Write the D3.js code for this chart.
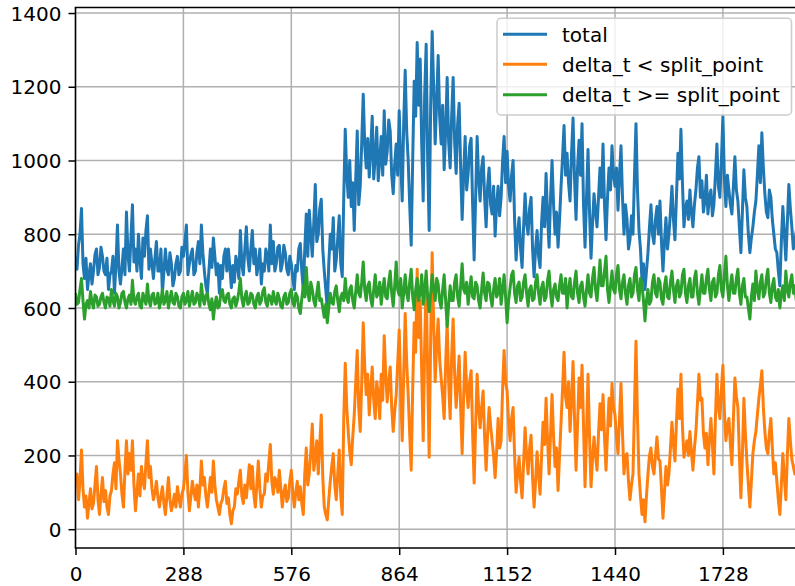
<!DOCTYPE html>
<html><head><meta charset="utf-8">
<script src="https://cdn.jsdelivr.net/npm/d3@7"></script>
<style>body{margin:0;background:#fff} svg{display:block}</style>
</head><body>
<svg id="c" width="795" height="586"></svg>
<script>
// sample spacing along the x axis (index units)
const step = 4;

const total = [
740,705,770,800,870,720,680,735,650,690,720,665,700,745,760,690,710,765,740,700,
690,735,650,690,700,740,640,720,825,700,665,710,760,690,860,745,700,790,880,725,
760,700,800,730,680,790,740,810,850,705,760,720,680,735,780,700,700,760,640,700,
760,705,690,750,720,660,680,720,740,690,700,765,740,780,825,690,720,745,760,690,
700,750,780,720,825,750,700,660,640,700,760,710,790,740,690,720,640,715,680,740,
760,700,760,710,655,715,670,740,720,680,810,720,690,760,820,735,700,760,810,720,
760,690,720,760,665,720,700,760,740,700,825,720,780,700,720,765,770,700,720,770,
750,705,690,740,720,680,650,715,700,760,775,700,650,760,855,740,865,800,740,830,
935,780,800,870,895,760,700,650,600,720,800,760,845,700,730,790,850,720,685,900,
1085,960,900,1000,875,940,810,950,1080,880,930,1050,1180,1040,980,1060,955,1030,1120,950,
1010,1090,945,1000,1065,960,1135,990,1025,1110,1080,960,910,990,1045,960,1135,1000,890,1100,
1245,1080,1000,880,770,1000,1215,1120,1320,1150,1275,1050,890,1180,1315,1000,810,1150,1350,1200,
1045,1160,1285,1120,1045,1150,975,1080,1225,1050,980,1120,1225,1050,965,1100,1155,980,840,960,
1065,920,965,1040,1060,880,730,900,1065,950,890,980,1010,900,820,930,980,880,855,930,
795,880,930,850,900,1000,1065,940,1025,930,890,960,1000,840,730,800,845,760,710,820,
910,830,800,870,900,760,685,760,810,740,710,830,900,820,965,850,765,900,1000,880,
800,860,765,840,930,1010,1095,960,1020,940,890,1020,1115,950,840,980,1055,960,1100,880,
765,900,1030,860,735,830,910,860,820,900,980,900,1045,880,785,900,980,920,1040,960,
930,980,865,960,1040,900,800,880,840,760,785,850,800,960,1100,920,810,760,675,720,
650,700,750,820,880,800,775,840,875,800,890,780,700,780,845,760,800,860,930,840,
785,900,1020,950,1085,940,820,870,890,840,920,860,820,880,920,980,1010,900,945,860,
890,960,855,900,920,850,880,960,1045,930,900,1000,1120,950,875,960,920,880,855,930,
1010,920,890,820,750,860,975,900,875,800,750,790,820,860,890,960,1040,940,1075,980,
910,860,845,920,900,840,800,760,750,700,660,780,875,800,730,830,935,870,820,760,
780,810,850
];

const below = [
120,150,80,130,215,110,60,90,30,70,110,55,70,120,170,80,40,95,140,75,
105,60,40,90,105,150,180,110,240,190,150,95,60,160,240,150,205,160,240,120,
50,100,150,90,170,130,110,180,240,140,170,110,80,100,130,85,60,90,115,70,
40,90,140,80,50,70,95,60,115,85,60,95,110,150,200,100,50,90,130,100,
80,120,60,110,185,120,140,90,60,100,140,100,185,120,80,60,40,70,80,110,
130,70,85,40,15,50,60,110,95,130,160,90,70,120,85,130,175,110,170,95,
60,120,185,110,60,90,95,150,130,180,230,130,95,140,130,100,160,110,60,100,
120,75,85,130,160,100,60,100,130,80,115,70,40,150,220,120,150,210,285,160,
195,240,150,230,310,140,60,40,25,80,130,170,205,120,80,150,215,90,40,300,
450,330,265,210,175,250,310,400,485,330,265,400,560,440,365,420,310,380,440,350,
300,400,365,300,420,350,525,420,345,400,440,330,265,320,365,450,540,380,240,420,
585,450,365,260,160,380,560,480,705,520,620,430,240,500,680,420,195,520,750,560,
400,500,570,460,410,360,300,450,560,400,300,470,570,420,330,400,470,330,205,360,
480,380,330,400,430,260,125,280,420,330,275,330,375,250,160,260,330,280,240,200,
140,210,300,220,240,380,485,400,375,290,240,300,330,200,100,150,195,130,85,180,
275,200,150,220,255,140,60,130,210,150,95,200,290,230,355,240,150,260,365,250,
170,220,105,200,290,380,480,360,330,400,265,350,455,300,160,280,410,330,445,280,
115,260,420,250,115,190,250,200,160,260,340,270,365,250,160,260,355,280,395,330,
310,250,205,300,395,260,150,200,205,130,80,120,150,330,510,300,150,90,40,80,
20,90,150,200,220,170,150,200,250,190,185,110,30,100,170,120,150,220,290,230,
185,290,380,300,420,280,195,220,240,200,265,210,160,220,265,340,420,350,355,260,
220,260,175,240,300,230,150,300,420,330,300,380,445,320,240,280,300,230,175,300,
410,360,330,200,85,200,355,260,185,120,60,130,205,240,265,310,355,390,430,330,
265,220,205,260,300,220,150,180,130,80,40,120,205,140,80,200,300,240,190,170,
150,175,200
];

const above = [
640,610,615,650,680,620,570,610,620,600,645,615,600,635,630,605,610,630,640,615,
600,630,625,605,650,620,605,640,630,600,615,640,645,615,600,625,635,610,675,620,
610,630,640,605,600,640,625,610,665,620,605,635,640,610,615,640,600,620,650,610,
620,645,600,625,645,615,610,640,630,605,600,630,640,610,620,645,605,625,645,610,
615,640,630,605,665,625,610,635,640,610,595,625,570,610,630,600,605,640,650,620,
615,635,640,610,600,625,630,605,620,645,680,625,605,630,645,610,615,640,635,610,
600,630,640,610,620,645,655,615,605,635,630,610,645,620,610,640,625,605,600,630,
640,610,615,640,650,615,605,640,630,600,585,625,660,630,710,640,620,670,650,620,
605,640,670,620,625,600,575,610,560,600,640,615,610,645,660,620,590,630,640,620,
680,630,615,650,660,620,600,645,690,640,630,670,725,650,620,660,670,625,605,650,
690,630,640,670,610,650,680,630,625,670,700,640,605,660,725,650,635,680,600,640,
690,640,620,670,705,630,595,650,680,620,640,690,610,650,700,630,590,640,690,650,
620,680,665,620,600,650,690,620,550,610,660,620,620,670,690,630,605,660,720,650,
640,670,610,650,685,630,625,670,660,620,600,650,695,640,620,670,665,630,605,650,
680,630,640,680,610,650,690,630,560,620,655,690,700,640,615,660,670,620,630,670,
690,640,605,650,660,620,625,670,690,640,610,655,670,620,630,675,700,640,605,650,
665,630,620,660,690,640,640,680,600,650,680,630,625,670,700,640,615,660,670,630,
605,650,690,640,630,680,710,650,620,670,730,660,660,700,740,650,615,660,700,650,
640,690,715,650,625,670,690,640,610,660,680,630,640,690,710,650,620,680,665,620,
565,620,650,610,620,670,690,640,630,680,670,625,610,660,685,630,625,670,700,650,
615,660,675,630,640,690,705,640,615,660,680,630,630,680,700,640,610,650,690,640,
640,680,705,650,620,670,680,630,640,690,715,650,630,690,740,660,620,660,690,640,
640,680,705,640,610,660,680,630,630,600,570,630,665,620,700,650,625,670,690,630,
640,680,705,640,615,660,680,630,620,650,600,640,660,620,700,650,630,670,690,640,
660,620,640
];

const xTicks = [0, 288, 576, 864, 1152, 1440, 1728];
const yTicks = [0, 200, 400, 600, 800, 1000, 1200, 1400];
const seriesNames = ["total", "delta_t < split_point", "delta_t >= split_point"];
const seriesColors = ["#1f77b4", "#ff7f0e", "#2ca02c"];

const W = 795, H = 586;
const L = 75.5, T = 7.5, B = 548;
const FS = 20;
const font = "DejaVu Sans, Liberation Sans, sans-serif";

const svg = d3.select("#c");
const x = d3.scaleLinear().domain([0, 2016]).range([L, 830.8]);
const y = d3.scaleLinear().domain([-51, 1415]).range([B, T]);

svg.append("defs").append("clipPath").attr("id", "clip")
  .append("rect").attr("x", L).attr("y", T).attr("width", W - L).attr("height", B - T);

// grid
const grid = svg.append("g").attr("stroke", "#b0b0b0").attr("stroke-width", 1.5);
grid.selectAll("line.h").data(yTicks).join("line").attr("class", "h")
  .attr("x1", L).attr("x2", W).attr("y1", d => y(d)).attr("y2", d => y(d));
grid.selectAll("line.v").data(xTicks).join("line").attr("class", "v")
  .attr("x1", d => x(d)).attr("x2", d => x(d)).attr("y1", T).attr("y2", B);

// series
const series = [total, below, above];
const line = d3.line().x((d, i) => x(i * step)).y(d => y(d));
const plot = svg.append("g").attr("clip-path", "url(#clip)");
series.forEach((s, k) => {
  plot.append("path").datum(s).attr("d", line)
    .attr("fill", "none").attr("stroke", seriesColors[k])
    .attr("stroke-width", 3).attr("stroke-linejoin", "round");
});

// spines
const sp = svg.append("g").attr("stroke", "#000").attr("stroke-width", 1.5);
sp.append("line").attr("x1", L).attr("x2", L).attr("y1", T).attr("y2", B);
sp.append("line").attr("x1", L - 0.75).attr("x2", W).attr("y1", B).attr("y2", B);
sp.append("line").attr("x1", L - 0.75).attr("x2", W).attr("y1", T).attr("y2", T);

// axes via d3
const xAxis = d3.axisBottom(x).tickValues(xTicks).tickSize(7).tickPadding(7).tickFormat(d3.format("d"));
const yAxis = d3.axisLeft(y).tickValues(yTicks).tickSize(7).tickPadding(7).tickFormat(d3.format("d"));
const gx = svg.append("g").attr("transform", `translate(0,${B})`).call(xAxis);
const gy = svg.append("g").attr("transform", `translate(${L},0)`).call(yAxis);
[gx, gy].forEach(g => {
  g.select(".domain").remove();
  g.selectAll(".tick line").attr("stroke", "#000").attr("stroke-width", 1.5);
  g.selectAll(".tick text").attr("fill", "#000").attr("font-family", font).attr("font-size", FS);
});
gx.selectAll(".tick text").attr("y", 14).attr("dy", "0.93em");
gy.selectAll(".tick text").attr("dy", "0.36em");

// legend
const lg = svg.append("g");
lg.append("rect").attr("x", 497).attr("y", 18.3).attr("width", 294.5).attr("height", 96.7)
  .attr("rx", 4).attr("fill", "#fff").attr("fill-opacity", 0.8)
  .attr("stroke", "#cccccc").attr("stroke-width", 1.5);
const rowsY = [34.3, 64.3, 94.7];
seriesNames.forEach((n, k) => {
  lg.append("line").attr("x1", 503).attr("x2", 547).attr("y1", rowsY[k]).attr("y2", rowsY[k])
    .attr("stroke", seriesColors[k]).attr("stroke-width", 3);
  lg.append("text").attr("x", 562).attr("y", rowsY[k]).attr("dy", "0.36em")
    .attr("font-family", font).attr("font-size", FS).attr("fill", "#000").text(n);
});
</script>
</body></html>
